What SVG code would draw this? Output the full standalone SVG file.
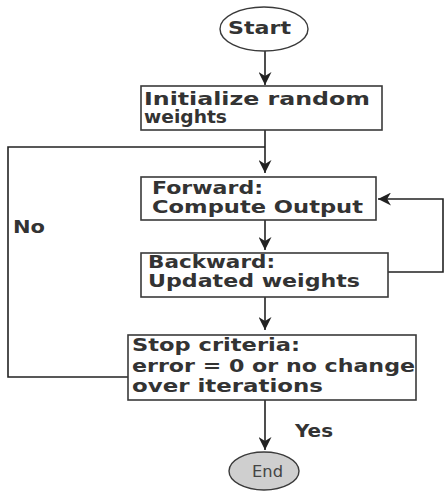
<svg xmlns="http://www.w3.org/2000/svg" width="445" height="492" viewBox="0 0 445 492">
  <defs>
    <style>
      .box { fill: #ffffff; stroke: #3a3a3a; stroke-width: 1.6; }
      .term { stroke: #3a3a3a; stroke-width: 1.4; }
      .t { font-family: "DejaVu Sans", Verdana, sans-serif; font-weight: bold; font-size: 17px; fill: #333333; }
      .end { font-family: "DejaVu Sans", Verdana, sans-serif; font-size: 15px; fill: #444444; }
      .ln { fill: none; stroke: #222222; stroke-width: 1.6; }
    </style>
    <marker id="ahb" viewBox="0 0 10 10" refX="10" refY="5" markerWidth="13" markerHeight="13" orient="auto" markerUnits="userSpaceOnUse">
      <path d="M0,0 L10,5 L0,10 L3,5 z" fill="#222222"/>
    </marker>
  </defs>
  <rect width="445" height="492" fill="#ffffff"/>

  <g id="connectors">
    <line class="ln" x1="265" y1="51" x2="265" y2="85" marker-end="url(#ahb)"/>
    <line class="ln" x1="265" y1="130" x2="265" y2="173" marker-end="url(#ahb)"/>
    <line class="ln" x1="265" y1="220" x2="265" y2="250" marker-end="url(#ahb)"/>
    <line class="ln" x1="265" y1="297" x2="265" y2="330" marker-end="url(#ahb)"/>
    <line class="ln" x1="265" y1="400" x2="265" y2="450" marker-end="url(#ahb)"/>
    <polyline class="ln" points="388,272 443,272 443,199 378,199" marker-end="url(#ahb)"/>
    <polyline class="ln" points="128,377 8,377 8,147 265,147"/>
  </g>

  <g id="start">
    <ellipse class="term" cx="264" cy="29" rx="44" ry="22" fill="#ffffff"/>
    <text class="t" x="228" y="34" textLength="63" lengthAdjust="spacingAndGlyphs">Start</text>
  </g>

  <g id="init">
    <rect class="box" x="141" y="86" width="241" height="44"/>
    <text class="t" x="144" y="105" textLength="226" lengthAdjust="spacingAndGlyphs">Initialize random</text>
    <text class="t" x="144" y="123" textLength="83" lengthAdjust="spacingAndGlyphs">weights</text>
  </g>

  <g id="forward">
    <rect class="box" x="141" y="177" width="235" height="43"/>
    <text class="t" x="152" y="194" textLength="111" lengthAdjust="spacingAndGlyphs">Forward:</text>
    <text class="t" x="152" y="213" textLength="211" lengthAdjust="spacingAndGlyphs">Compute Output</text>
  </g>

  <g id="backward">
    <rect class="box" x="141" y="253" width="247" height="44"/>
    <text class="t" x="148" y="268" textLength="127" lengthAdjust="spacingAndGlyphs">Backward:</text>
    <text class="t" x="148" y="287" textLength="212" lengthAdjust="spacingAndGlyphs">Updated weights</text>
  </g>

  <g id="stop">
    <rect class="box" x="128" y="335" width="288" height="65"/>
    <text class="t" x="132" y="351" textLength="168" lengthAdjust="spacingAndGlyphs">Stop criteria:</text>
    <text class="t" x="132" y="372" textLength="283" lengthAdjust="spacingAndGlyphs">error = 0 or no change</text>
    <text class="t" x="132" y="392" textLength="191" lengthAdjust="spacingAndGlyphs">over iterations</text>
  </g>

  <g id="end">
    <ellipse class="term" cx="264" cy="471" rx="35" ry="19" fill="#cfcfcf"/>
    <text class="end" x="252" y="477" textLength="31" lengthAdjust="spacingAndGlyphs">End</text>
  </g>

  <g id="labels">
    <text class="t" x="13" y="233" textLength="32" lengthAdjust="spacingAndGlyphs">No</text>
    <text class="t" x="295" y="437" textLength="38" lengthAdjust="spacingAndGlyphs">Yes</text>
  </g>
</svg>
